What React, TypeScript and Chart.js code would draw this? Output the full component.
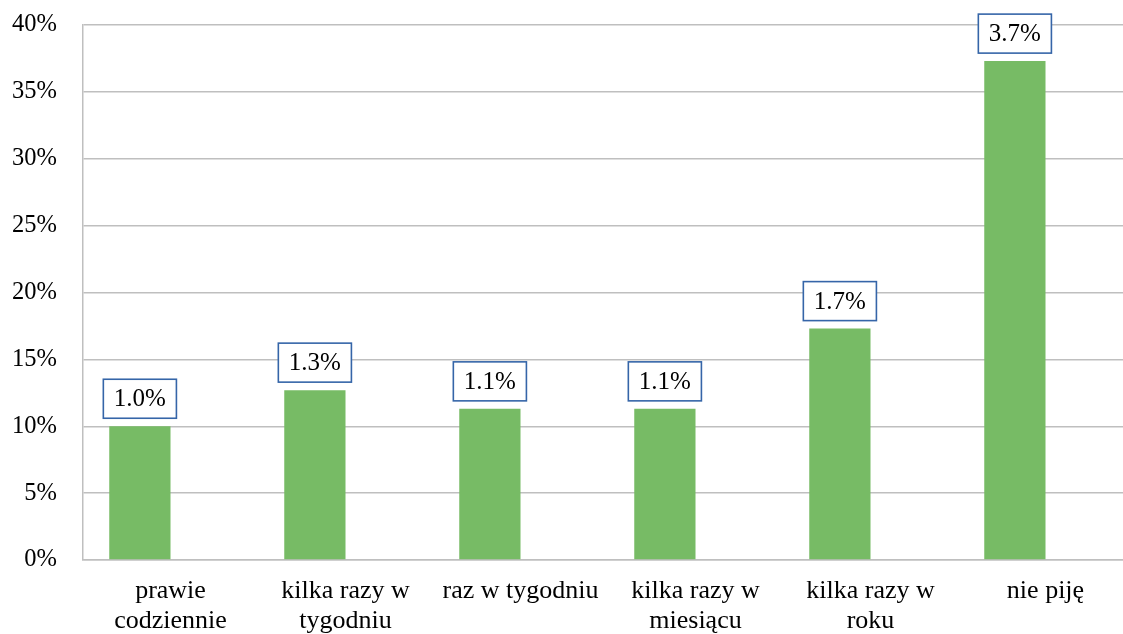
import React, { useEffect, useRef } from "react";
import { Chart, registerables } from "chart.js";

Chart.register(...registerables);

const categories: string[][] = [
  ["prawie", "codziennie"],
  ["kilka razy w", "tygodniu"],
  ["raz w tygodniu"],
  ["kilka razy w", "miesiącu"],
  ["kilka razy w", "roku"],
  ["nie piję"],
];
const values: number[] = [10.0, 12.7, 11.3, 11.3, 17.3, 37.3];
const boxLabels: string[] = ["1.0%", "1.3%", "1.1%", "1.1%", "1.7%", "3.7%"];
const emptySeries: (number | null)[] = [null, null, null, null, null, null];
const yTicks: number[] = [0, 5, 10, 15, 20, 25, 30, 35, 40];

const FONT = "'Liberation Serif', 'Times New Roman', serif";

const boxPlugin = {
  id: "boxLabels",
  afterDatasetsDraw(chart: any) {
    const meta = chart.getDatasetMeta(0);
    const ctx = chart.ctx;
    ctx.save();
    ctx.font = `25px ${FONT}`;
    ctx.textAlign = "center";
    ctx.textBaseline = "middle";
    meta.data.forEach((bar: any, i: number) => {
      const text = boxLabels[i];
      const tw = ctx.measureText(text).width;
      const w = tw + 21;
      const h = 39;
      const cx = bar.x;
      const bottom = bar.y - 8;
      const top = bottom - h;
      ctx.fillStyle = "#ffffff";
      ctx.fillRect(cx - w / 2, top, w, h);
      ctx.strokeStyle = "#3565A8";
      ctx.lineWidth = 1.6;
      ctx.strokeRect(cx - w / 2, top, w, h);
      ctx.fillStyle = "#000000";
      ctx.fillText(text, cx, top + h / 2 + 1);
    });
    ctx.restore();
  },
};

export default function App() {
  const ref = useRef<HTMLCanvasElement | null>(null);
  useEffect(() => {
    if (!ref.current) return;
    const chart = new Chart(ref.current, {
      type: "bar",
      data: {
        labels: categories,
        datasets: [
          {
            label: "a",
            data: values,
            backgroundColor: "#77BB65",
            borderWidth: 0,
            categoryPercentage: 0.7,
            barPercentage: 1.0,
          },
          {
            label: "b",
            data: emptySeries,
            backgroundColor: "#77BB65",
            categoryPercentage: 0.7,
            barPercentage: 1.0,
          },
        ],
      },
      options: {
        responsive: false,
        animation: false,
        events: [],
        layout: { padding: { top: 25, right: 7, left: 0, bottom: 0 } },
        plugins: {
          legend: { display: false },
          tooltip: { enabled: false },
        },
        scales: {
          x: {
            grid: { display: false, drawTicks: false },
            border: { display: true, color: "#BFBFBF", width: 1.5 },
            ticks: {
              color: "#000",
              font: { family: FONT, size: 26, lineHeight: 1.15 },
              padding: 16,
              maxRotation: 0,
              autoSkip: false,
            },
            afterFit(scale: any) {
              scale.height = 120;
            },
          },
          y: {
            min: 0,
            max: 40,
            afterBuildTicks(scale: any) {
              scale.ticks = yTicks.map((v) => ({ value: v }));
            },
            grid: { color: "#BFBFBF", lineWidth: 1.5, drawTicks: false },
            border: { display: true, color: "#BFBFBF", width: 1.5 },
            ticks: {
              color: "#000",
              font: { family: FONT, size: 24.5 },
              padding: 26,
              callback: (v: any) => `${v}%`,
            },
            afterFit(scale: any) {
              scale.width = 83;
              scale.paddingTop = 0;
              scale.paddingBottom = 0;
            },
          },
        },
      },
      plugins: [boxPlugin],
    });
    return () => chart.destroy();
  }, []);
  return (
    <div style={{ position: "fixed", left: 0, top: 0, width: 1140, height: 680, background: "#fff" }}>
      <canvas ref={ref} width={1140} height={680} />
    </div>
  );
}
